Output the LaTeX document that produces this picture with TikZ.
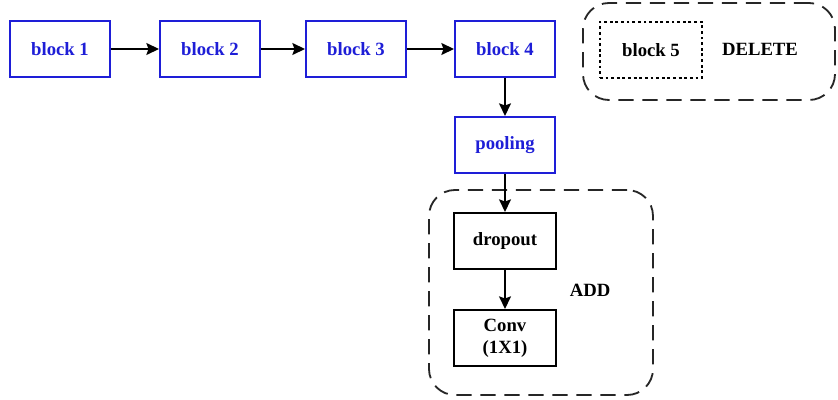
\documentclass[tikz,border=0pt]{standalone}
\usepackage{fontspec}
\setmainfont{Liberation Serif}
\usetikzlibrary{positioning}
\usetikzlibrary{arrows.meta}
\definecolor{blockblue}{RGB}{30,30,215}
\tikzset{
    every node/.style={font=\fontsize{13.3}{15.5}\selectfont\bfseries}, % Bold serif labels
    blockbox/.style={ % Blue boxes of the main chain
        draw=blockblue,
        text=blockblue,
        line width=1.4pt,
        minimum width=2.5cm,
        minimum height=1.4cm
    },
    plainbox/.style={ % Black boxes that are added
        draw=black,
        line width=1.4pt,
        minimum width=2.55cm,
        minimum height=1.4cm,
        align=center
    },
    group/.style={ % Dashed rounded frames
        draw=black!85,
        line width=1.3pt,
        dash pattern=on 0.38cm off 0.22cm,
        rounded corners=0.65cm
    },
    link/.style={ % Connectors between boxes
        draw,
        -{Stealth[length=9pt,width=8.5pt,inset=1.5pt]},
        line width=1.1pt
    }
}
\begin{document}
\begin{tikzpicture}
\useasboundingbox (0,0) rectangle (20.95,9.975);
\node [group,minimum width=6.3cm,minimum height=2.425cm] (delgrp) at (17.725,8.6875) {};
\node [group,minimum width=5.6cm,minimum height=5.125cm] (addgrp) at (13.525,2.6625) {};

\node [blockbox] (b1) at (1.5,8.75) {block 1};
\node [blockbox] (b2) at (5.25,8.75) {block 2};
\node [blockbox] (b3) at (8.9,8.75) {block 3};
\node [blockbox] (b4) at (12.625,8.75) {block 4};
\node [draw,line width=1.3pt,dash pattern=on 2pt off 2pt,minimum width=2.55cm,minimum height=1.4cm] (b5) at (16.275,8.725) {block 5};
\node (del) at (19.0,8.75) {DELETE};

\node [blockbox] (pool) at (12.625,6.35) {pooling};
\node [plainbox] (drop) at (12.625,3.95) {dropout};
\node [plainbox] (conv) at (12.625,1.525) {Conv\\(1X1)};
\node (add) at (14.75,2.725) {ADD};

\draw [link] (b1) -- (b2);
\draw [link] (b2) -- (b3);
\draw [link] (b3) -- (b4);
\draw [link] (b4) -- (pool);
\draw [link] (pool) -- (drop);
\draw [link] (drop) -- (conv);
\end{tikzpicture}
\end{document}
